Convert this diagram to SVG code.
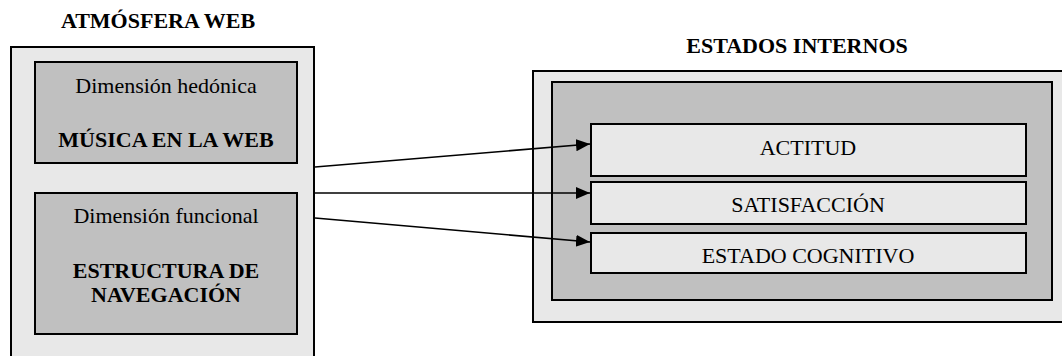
<svg xmlns="http://www.w3.org/2000/svg" width="1062" height="356" viewBox="0 0 1062 356">
<style>
.light{fill:#e8e8e8;stroke:#000;stroke-width:2}
.dark{fill:#c0c0c0;stroke:#000;stroke-width:2}
text{font-family:'Liberation Serif',serif;font-size:22px;fill:#000;text-anchor:middle}
.b{font-weight:bold}
.conn{stroke:#000;stroke-width:1.6;fill:none}
</style>
<defs>
<marker id="arr" markerUnits="userSpaceOnUse" markerWidth="15" markerHeight="13" refX="14" refY="6" orient="auto">
<path d="M0,0 L14,6 L0,12 z" fill="#000"/>
</marker>
</defs>
<rect width="1062" height="356" fill="#fff"/>
<g id="atmosfera-web" font-family="Liberation Serif, serif">
<text class="b" x="158" y="28" font-family="Liberation Serif, serif">ATMÓSFERA WEB</text>
<rect class="light" x="11" y="47" width="303" height="320"/>
</g>
<g id="musica" font-family="Liberation Serif, serif">
<rect class="dark" x="35" y="62" width="262" height="101"/>
<text x="166" y="93" font-family="Liberation Serif, serif">Dimensión hedónica</text>
<text class="b" x="166" y="147" font-family="Liberation Serif, serif">MÚSICA EN LA WEB</text>
</g>
<g id="estructura" font-family="Liberation Serif, serif">
<rect class="dark" x="35" y="193" width="262" height="141"/>
<text x="166" y="223" font-family="Liberation Serif, serif">Dimensión funcional</text>
<text class="b" x="166" y="278" font-family="Liberation Serif, serif">ESTRUCTURA DE</text>
<text class="b" x="166" y="302" font-family="Liberation Serif, serif">NAVEGACIÓN</text>
</g>
<g id="estados-internos" font-family="Liberation Serif, serif">
<text class="b" x="797" y="53" font-family="Liberation Serif, serif">ESTADOS INTERNOS</text>
<rect class="light" x="533" y="71" width="540" height="251"/>
<rect class="dark" x="552" y="82" width="500" height="218"/>
</g>
<g id="actitud" font-family="Liberation Serif, serif">
<rect class="light" x="591" y="124" width="435" height="52"/>
<text x="808" y="155" font-family="Liberation Serif, serif">ACTITUD</text>
</g>
<g id="satisfaccion" font-family="Liberation Serif, serif">
<rect class="light" x="591" y="182" width="435" height="42"/>
<text x="808" y="212" font-family="Liberation Serif, serif">SATISFACCIÓN</text>
</g>
<g id="estado-cognitivo" font-family="Liberation Serif, serif">
<rect class="light" x="591" y="233" width="435" height="40"/>
<text x="808" y="263" font-family="Liberation Serif, serif">ESTADO COGNITIVO</text>
</g>
<g id="connectors">
<line class="conn" x1="315" y1="167" x2="590" y2="144" marker-end="url(#arr)"/>
<line class="conn" x1="315" y1="193" x2="590" y2="193" marker-end="url(#arr)"/>
<line class="conn" x1="315" y1="218" x2="590" y2="242" marker-end="url(#arr)"/>
</g>
</svg>
